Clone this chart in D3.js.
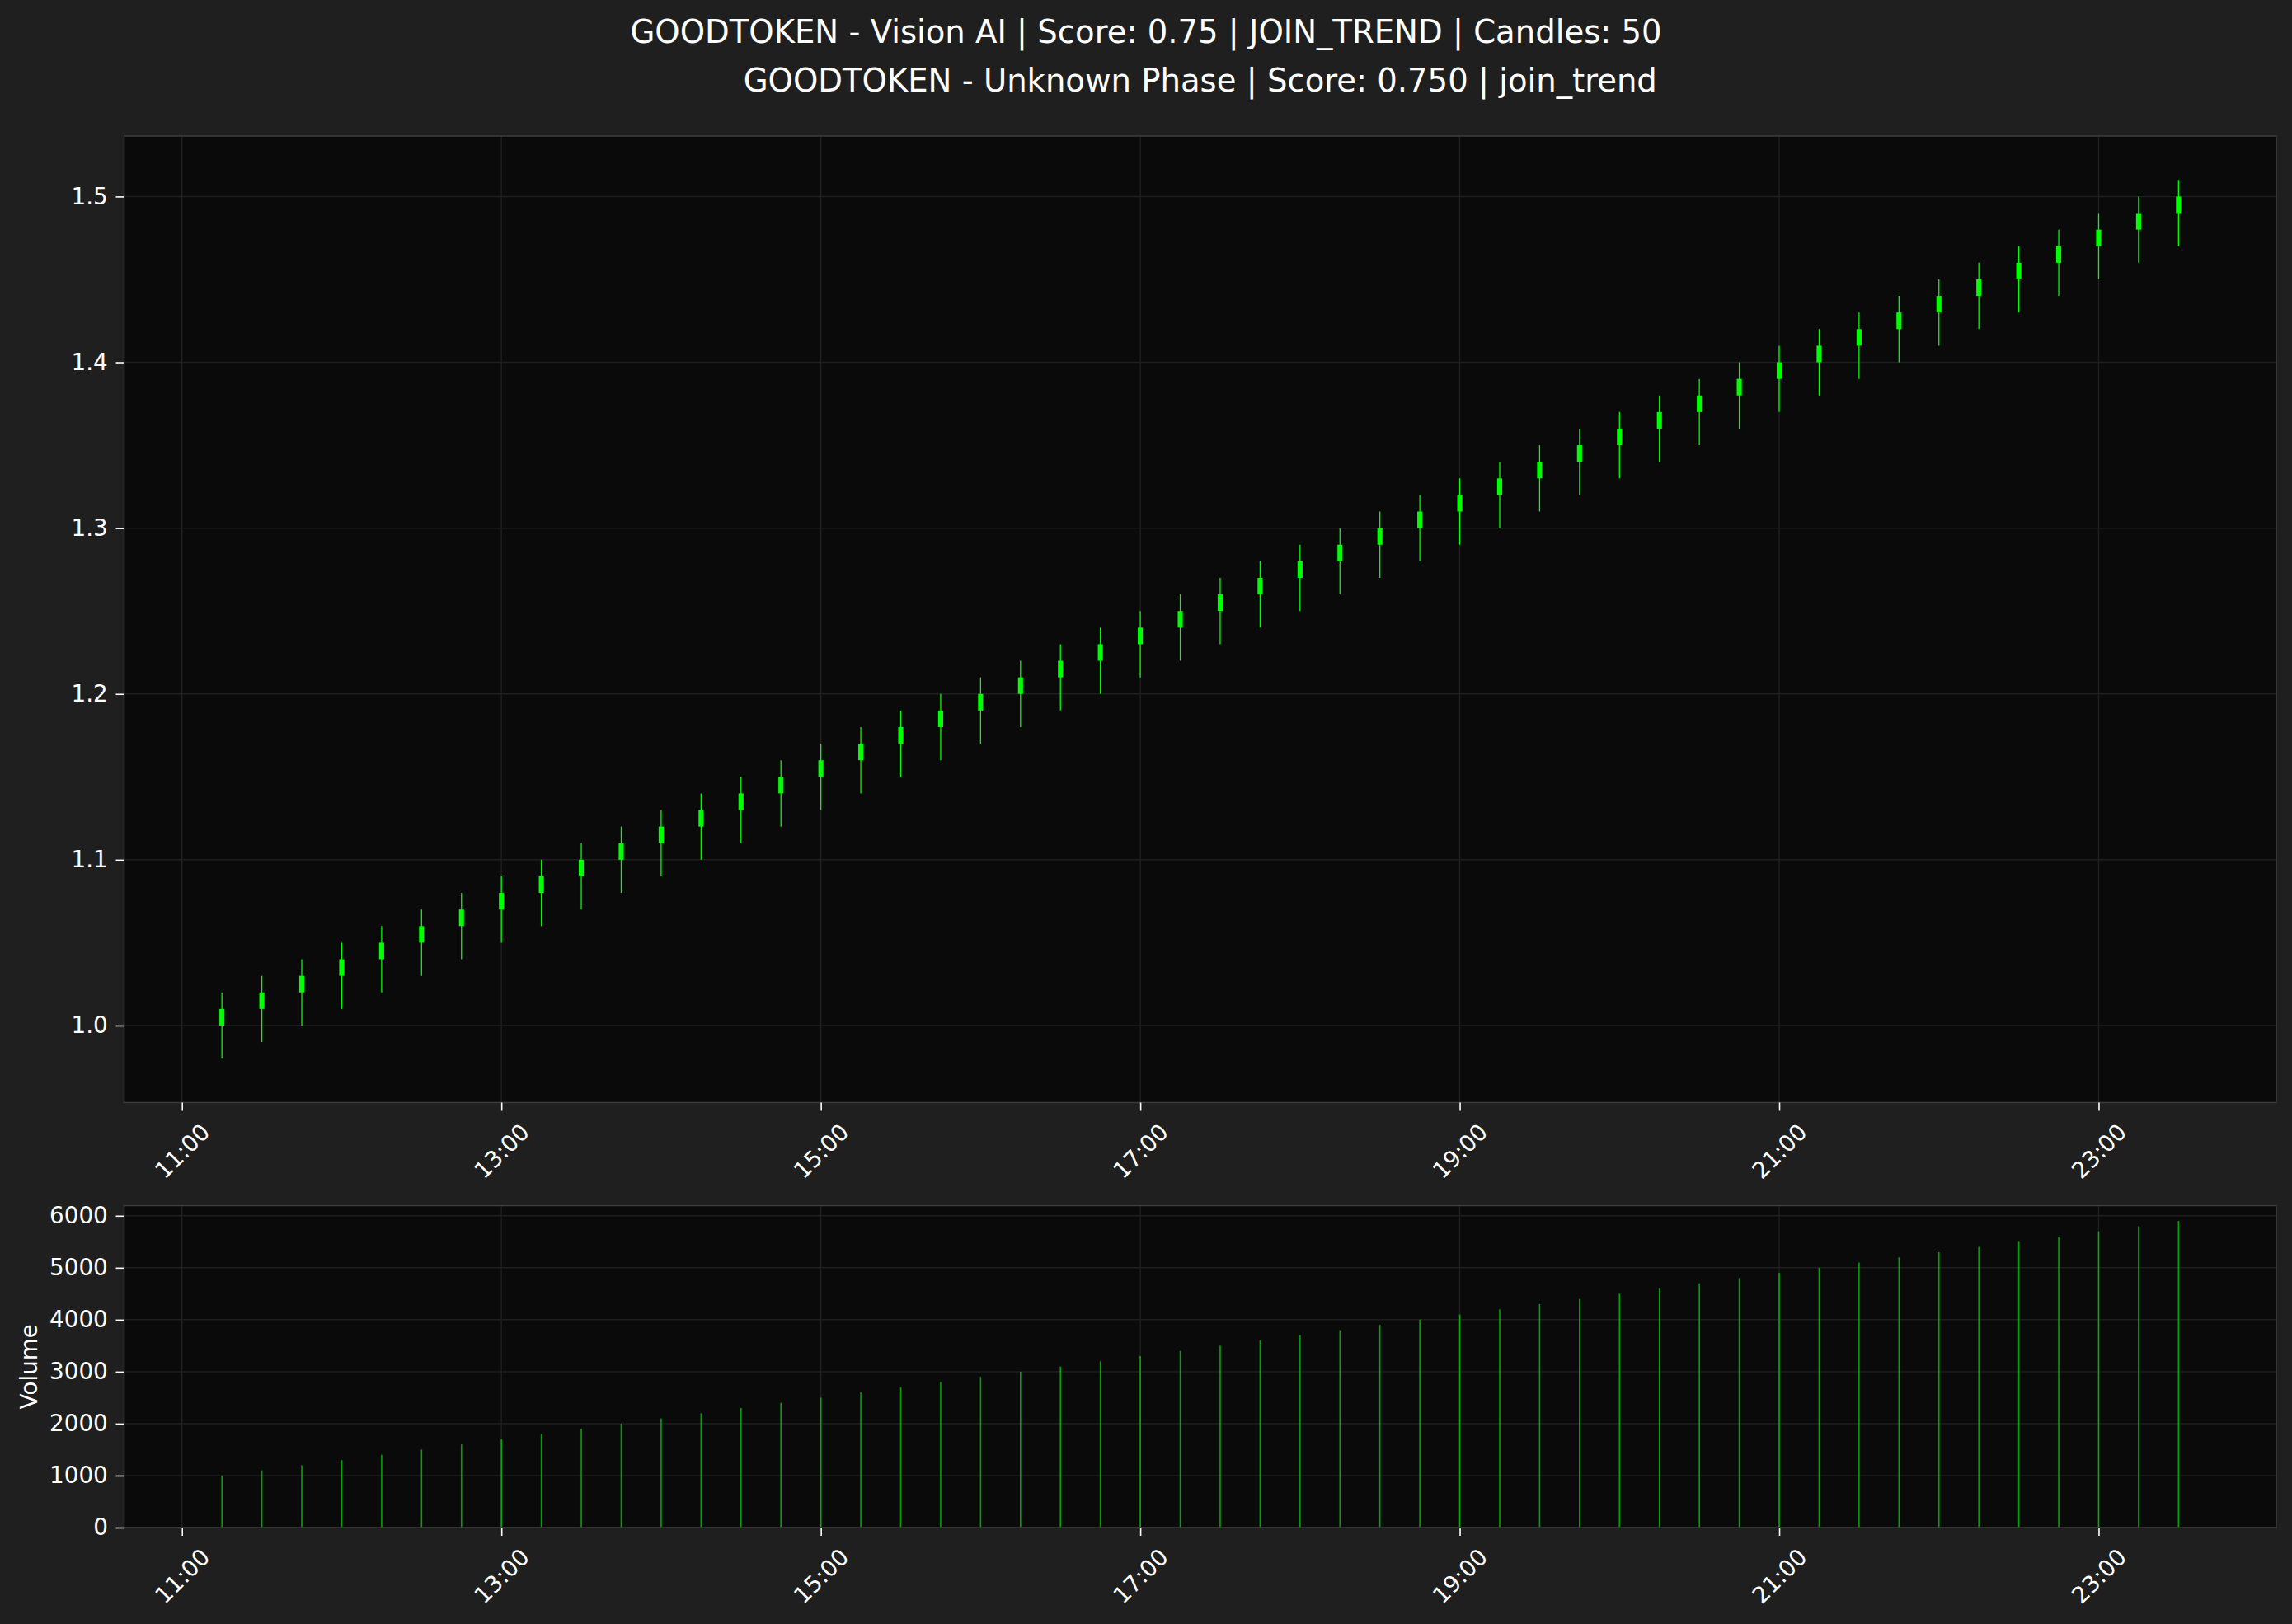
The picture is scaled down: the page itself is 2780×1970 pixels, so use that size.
<!DOCTYPE html>
<html>
<head>
<meta charset="utf-8">
<script src="https://cdn.jsdelivr.net/npm/d3@7"></script>
<style>
html, body { margin: 0; padding: 0; background: #1f1f1f; }
svg { display: block; }
text { font-family: "DejaVu Sans", sans-serif; fill: #ffffff; }
</style>
</head>
<body>
<svg id="chart" width="2780" height="1970"></svg>
<script>
// ---- DATA ----
const times = ["11:15","11:30","11:45","12:00","12:15","12:30","12:45","13:00","13:15","13:30",
  "13:45","14:00","14:15","14:30","14:45","15:00","15:15","15:30","15:45","16:00",
  "16:15","16:30","16:45","17:00","17:15","17:30","17:45","18:00","18:15","18:30",
  "18:45","19:00","19:15","19:30","19:45","20:00","20:15","20:30","20:45","21:00",
  "21:15","21:30","21:45","22:00","22:15","22:30","22:45","23:00","23:15","23:30"];
const opens = [1.00,1.01,1.02,1.03,1.04,1.05,1.06,1.07,1.08,1.09,
  1.10,1.11,1.12,1.13,1.14,1.15,1.16,1.17,1.18,1.19,
  1.20,1.21,1.22,1.23,1.24,1.25,1.26,1.27,1.28,1.29,
  1.30,1.31,1.32,1.33,1.34,1.35,1.36,1.37,1.38,1.39,
  1.40,1.41,1.42,1.43,1.44,1.45,1.46,1.47,1.48,1.49];
const closes = [1.01,1.02,1.03,1.04,1.05,1.06,1.07,1.08,1.09,1.10,
  1.11,1.12,1.13,1.14,1.15,1.16,1.17,1.18,1.19,1.20,
  1.21,1.22,1.23,1.24,1.25,1.26,1.27,1.28,1.29,1.30,
  1.31,1.32,1.33,1.34,1.35,1.36,1.37,1.38,1.39,1.40,
  1.41,1.42,1.43,1.44,1.45,1.46,1.47,1.48,1.49,1.50];
const highs = [1.02,1.03,1.04,1.05,1.06,1.07,1.08,1.09,1.10,1.11,
  1.12,1.13,1.14,1.15,1.16,1.17,1.18,1.19,1.20,1.21,
  1.22,1.23,1.24,1.25,1.26,1.27,1.28,1.29,1.30,1.31,
  1.32,1.33,1.34,1.35,1.36,1.37,1.38,1.39,1.40,1.41,
  1.42,1.43,1.44,1.45,1.46,1.47,1.48,1.49,1.50,1.51];
const lows = [0.98,0.99,1.00,1.01,1.02,1.03,1.04,1.05,1.06,1.07,
  1.08,1.09,1.10,1.11,1.12,1.13,1.14,1.15,1.16,1.17,
  1.18,1.19,1.20,1.21,1.22,1.23,1.24,1.25,1.26,1.27,
  1.28,1.29,1.30,1.31,1.32,1.33,1.34,1.35,1.36,1.37,
  1.38,1.39,1.40,1.41,1.42,1.43,1.44,1.45,1.46,1.47];
const volumes = [1000,1100,1200,1300,1400,1500,1600,1700,1800,1900,
  2000,2100,2200,2300,2400,2500,2600,2700,2800,2900,
  3000,3100,3200,3300,3400,3500,3600,3700,3800,3900,
  4000,4100,4200,4300,4400,4500,4600,4700,4800,4900,
  5000,5100,5200,5300,5400,5500,5600,5700,5800,5900];
const xTickLabels = ["11:00","13:00","15:00","17:00","19:00","21:00","23:00"];
const priceTicks = [1.0, 1.1, 1.2, 1.3, 1.4, 1.5];
const volumeTicks = [0, 1000, 2000, 3000, 4000, 5000, 6000];
const suptitle = "GOODTOKEN - Vision AI | Score: 0.75 | JOIN_TREND | Candles: 50";
const axTitle = "GOODTOKEN - Unknown Phase | Score: 0.750 | join_trend";

// ---- HELPERS ----
const parseT = s => { const [h, m] = s.split(":").map(Number); return new Date(Date.UTC(2024, 0, 1, h, m)); };
const data = times.map((t, i) => ({ t: parseT(t), o: opens[i], h: highs[i], l: lows[i], c: closes[i], v: volumes[i] }));

const W = 2780, H = 1970;
const left = 150.5, right = 2761;
const main = { top: 165, bottom: 1337.5 };
const vol = { top: 1462.5, bottom: 1853 };

const BG = "#1f1f1f", AXBG = "#0a0a0a", GRID = "#1f1f1f", SPINE = "#3a3a3a";

const tMin = d3.min(data, d => d.t), tMax = d3.max(data, d => d.t);
const tSpan = tMax - tMin;
const x = d3.scaleUtc()
  .domain([new Date(+tMin - tSpan * 0.05), new Date(+tMax + tSpan * 0.05)])
  .range([left, right]);

const pLo = d3.min(lows), pHi = d3.max(highs), pSpan = pHi - pLo;
const y = d3.scaleLinear().domain([pLo - pSpan * 0.05, pHi + pSpan * 0.05]).range([main.bottom, main.top]);
const yv = d3.scaleLinear().domain([0, d3.max(volumes) * 1.05]).range([vol.bottom, vol.top]);

const svg = d3.select("#chart");
svg.append("rect").attr("width", W).attr("height", H).attr("fill", BG);

const xTicks = xTickLabels.map(parseT);
const fmt = d3.utcFormat("%H:%M");

function panel(p, yScale, yTicks) {
  const g = svg.append("g");
  g.append("rect").attr("x", left).attr("y", p.top).attr("width", right - left).attr("height", p.bottom - p.top).attr("fill", AXBG);
  g.selectAll(".vg").data(xTicks).join("line")
    .attr("x1", d => x(d)).attr("x2", d => x(d)).attr("y1", p.top).attr("y2", p.bottom)
    .attr("stroke", GRID).attr("stroke-width", 1.5);
  g.selectAll(".hg").data(yTicks).join("line")
    .attr("x1", left).attr("x2", right).attr("y1", d => yScale(d)).attr("y2", d => yScale(d))
    .attr("stroke", GRID).attr("stroke-width", 1.5);
  return g;
}

function decorate(g, p, yScale, yTicks, yFmt) {
  g.append("rect").attr("x", left).attr("y", p.top).attr("width", right - left).attr("height", p.bottom - p.top)
    .attr("fill", "none").attr("stroke", SPINE).attr("stroke-width", 1.6);
  const ya = g.append("g").attr("transform", `translate(${left},0)`)
    .call(d3.axisLeft(yScale).tickValues(yTicks).tickFormat(yFmt).tickSize(10).tickPadding(9.7));
  ya.select(".domain").remove();
  ya.selectAll(".tick line").attr("stroke", "#ffffff").attr("stroke-width", 1.6);
  ya.selectAll(".tick text").attr("fill", "#ffffff").style("font-size", "27.8px")
    .style("font-family", "'DejaVu Sans', sans-serif");
  const xa = g.append("g").attr("transform", `translate(0,${p.bottom})`)
    .call(d3.axisBottom(x).tickValues(xTicks).tickFormat(fmt).tickSize(10).tickPadding(0));
  xa.select(".domain").remove();
  xa.selectAll(".tick line").attr("stroke", "#ffffff").attr("stroke-width", 1.6);
  xa.selectAll(".tick text").attr("fill", "#ffffff").style("font-size", "27.8px")
    .style("font-family", "'DejaVu Sans', sans-serif")
    .attr("y", 0).attr("dy", null)
    .attr("text-anchor", "middle").attr("dominant-baseline", "central")
    .attr("transform", "translate(0,59) rotate(-45)");
}

// main candlesticks
const gm = panel(main, y, priceTicks);
gm.selectAll(".wick").data(data).join("line")
  .attr("x1", d => x(d.t)).attr("x2", d => x(d.t))
  .attr("y1", d => y(d.h)).attr("y2", d => y(d.l))
  .attr("stroke", "#00ff00").attr("stroke-width", 1.3);
const bodyW = x(new Date(+tMin + 1.9 * 60000)) - x(tMin);
gm.selectAll(".body").data(data).join("rect")
  .attr("x", d => x(d.t) - bodyW / 2).attr("width", bodyW)
  .attr("y", d => y(Math.max(d.o, d.c))).attr("height", d => Math.abs(y(d.o) - y(d.c)))
  .attr("fill", "#00ff00");
decorate(gm, main, y, priceTicks, d3.format(".1f"));

// volume
const gv = panel(vol, yv, volumeTicks);
const barW = x(new Date(+tMin + 0.5 * 60000)) - x(tMin);
gv.selectAll(".vbar").data(data).join("rect")
  .attr("x", d => x(d.t) - barW / 2).attr("width", barW)
  .attr("y", d => yv(d.v)).attr("height", d => yv(0) - yv(d.v))
  .attr("fill", "#00ff00").attr("fill-opacity", 0.62);
decorate(gv, vol, yv, volumeTicks, d3.format("d"));

svg.append("text").attr("transform", `translate(45,${(vol.top + vol.bottom) / 2}) rotate(-90)`)
  .attr("text-anchor", "middle").style("font-size", "27.8px").text("Volume");

// titles
svg.append("text").attr("x", W / 2).attr("y", 52).attr("text-anchor", "middle")
  .style("font-size", "38.6px").text(suptitle);
svg.append("text").attr("x", (left + right) / 2).attr("y", 111).attr("text-anchor", "middle")
  .style("font-size", "38.6px").text(axTitle);
</script>
</body>
</html>
